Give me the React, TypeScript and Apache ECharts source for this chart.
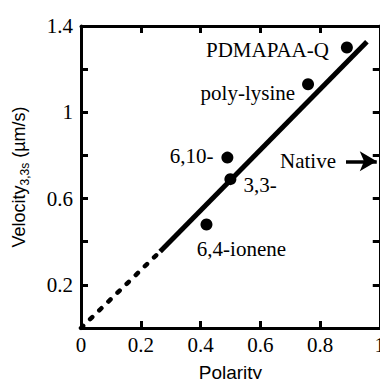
import React, { useEffect, useRef } from "react";
import * as echarts from "echarts";

const names = ["PDMAPAA-Q", "poly-lysine", "6,10-", "3,3-", "6,4-ionene"];
const polarity = [0.89, 0.76, 0.49, 0.5, 0.42];
const velocity = [1.3, 1.13, 0.79, 0.69, 0.48];

// fitted line: dotted from first to second point, solid from second to third
const fitX = [0, 0.265, 0.957];
const fitY = [0, 0.355, 1.327];

// "Native" arrow
const nativeX = [0.887, 0.99];
const nativeY = 0.773;

const xTicks = ["0", "0.2", "0.4", "0.6", "0.8", "1"];
const yTickLabels = ["", "0.2", "", "0.6", "", "1", "", "1.4"];

const serif = "Liberation Serif";
const sans = "Liberation Sans";

const labelCfg: any[] = [
  { position: "left", distance: 12, offset: [0, 2] },
  { position: "left", distance: 7, offset: [0, 9] },
  { position: "left", distance: 8, offset: [0, -2] },
  { position: "right", distance: 7, offset: [0, 5.5] },
  { position: "bottom", distance: 8, offset: [35, 0] },
];

function mkAxis(extra: any) {
  return {
    type: "value",
    axisLine: { show: true, onZero: false, lineStyle: { color: "#000", width: 3 } },
    axisTick: { show: true, inside: true, length: 7, lineStyle: { color: "#000", width: 3 } },
    splitLine: { show: false },
    ...extra,
  };
}

export default function App() {
  const ref = useRef<HTMLDivElement>(null);
  useEffect(() => {
    if (!ref.current) return;
    const chart = echarts.init(ref.current, null, { renderer: "svg" });
    chart.setOption({
      animation: false,
      backgroundColor: "#fff",
      grid: { left: 81, right: 3, top: 26, bottom: 55 },
      xAxis: [
        mkAxis({
          min: 0,
          max: 1,
          interval: 0.2,
          position: "bottom",
          axisLabel: {
            show: true,
            margin: 6,
            fontFamily: serif,
            fontSize: 21,
            color: "#000",
            formatter: (v: number) => xTicks[Math.round(v / 0.2)] ?? "",
          },
          name: "Polarity",
          nameLocation: "middle",
          nameGap: 35,
          nameTextStyle: { fontFamily: sans, fontSize: 19, color: "#000" },
        }),
        mkAxis({
          min: 0,
          max: 1,
          interval: 0.2,
          position: "top",
          axisLabel: { show: false },
        }),
      ],
      yAxis: [
        mkAxis({
          min: 0,
          max: 1.4,
          interval: 0.2,
          position: "left",
          axisLabel: {
            show: true,
            margin: 8,
            fontFamily: serif,
            fontSize: 21,
            color: "#000",
            formatter: (v: number) => yTickLabels[Math.round(v / 0.2)] ?? "",
          },
          name: "{a|Velocity}{b|3,3s}{a| (µm/s)}",
          nameLocation: "middle",
          nameRotate: 90,
          nameGap: 50,
          nameTextStyle: {
            color: "#000",
            rich: {
              a: { fontFamily: sans, fontSize: 18, lineHeight: 24, color: "#000" },
              b: { fontFamily: sans, fontSize: 12, lineHeight: 10, verticalAlign: "bottom", color: "#000" },
            },
          },
        }),
        mkAxis({
          min: 0,
          max: 1.4,
          interval: 0.2,
          position: "right",
          axisLabel: { show: false },
        }),
      ],
      series: [
        {
          type: "line",
          data: [
            [fitX[0], fitY[0]],
            [fitX[1], fitY[1]],
          ],
          showSymbol: false,
          symbol: "none",
          lineStyle: { color: "#000", width: 4.5, type: [3, 9.7], cap: "round" },
          z: 2,
        },
        {
          type: "line",
          data: [
            [fitX[1], fitY[1]],
            [fitX[2], fitY[2]],
          ],
          showSymbol: false,
          symbol: "none",
          lineStyle: { color: "#000", width: 5, cap: "butt" },
          z: 2,
        },
        {
          type: "scatter",
          symbolSize: 12,
          itemStyle: { color: "#000", opacity: 1 },
          z: 3,
          data: names.map((n, i) => ({
            name: n,
            value: [polarity[i], velocity[i]],
            label: {
              show: true,
              formatter: n,
              fontFamily: serif,
              fontSize: 21,
              color: "#000",
              ...labelCfg[i],
            },
          })),
        },
        {
          type: "line",
          data: [],
          markLine: {
            silent: true,
            symbol: ["none", "arrow"],
            symbolSize: [15, 17],
            lineStyle: { color: "#000", width: 3.5, type: "solid" },
            label: {
              show: true,
              position: "start",
              distance: 10,
              formatter: "Native",
              fontFamily: serif,
              fontSize: 21,
              color: "#000",
            },
            data: [
              [
                { coord: [nativeX[0], nativeY] },
                { coord: [nativeX[1], nativeY] },
              ],
            ],
          },
        },
      ],
    });
    return () => chart.dispose();
  }, []);
  return <div ref={ref} style={{ width: 388, height: 387, margin: -8 }} />;
}
